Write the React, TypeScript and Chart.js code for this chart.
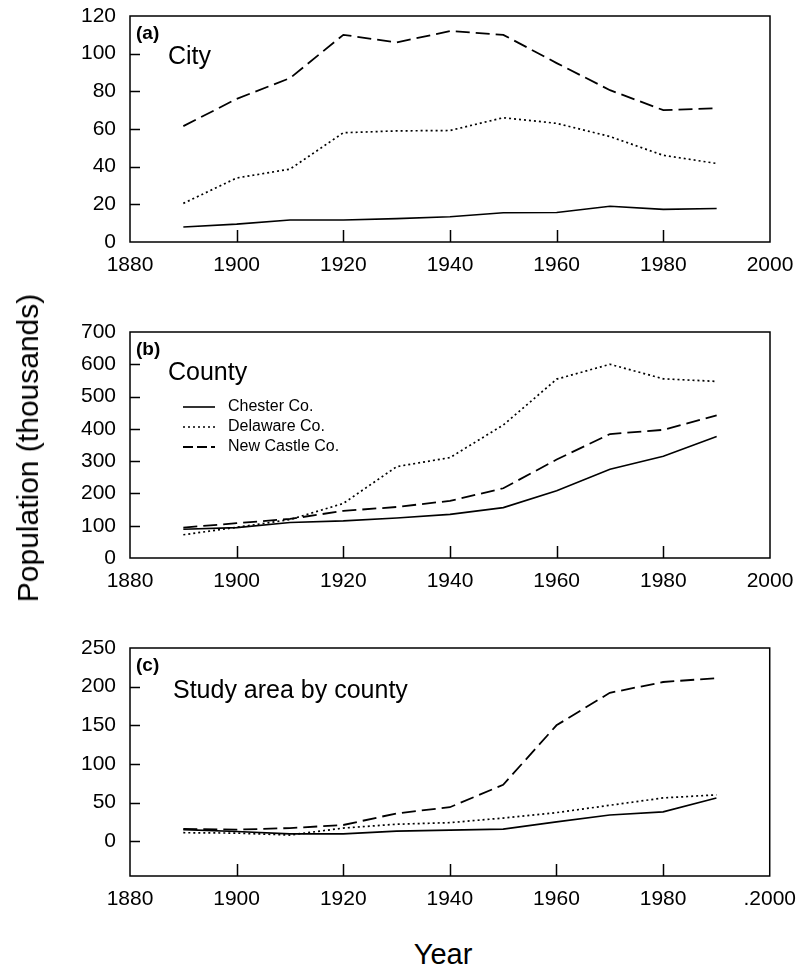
import React, { useEffect, useRef } from "react";
import { Chart, registerables } from "chart.js";

Chart.register(...registerables);

const FONT = "'Liberation Sans', Arial, Helvetica, sans-serif";

// ---- data (population, thousands) ----
const years = [1890, 1900, 1910, 1920, 1930, 1940, 1950, 1960, 1970, 1980, 1990];
const seriesNames = ["Chester Co.", "Delaware Co.", "New Castle Co."];

const cityChester = [8, 9.5, 11.7, 11.7, 12.4, 13.4, 15.5, 15.7, 19, 17.3, 17.8];
const cityDelaware = [20.5, 34, 38.7, 58, 59, 59.2, 66, 63, 56, 46, 41.7];
const cityNewCastle = [61.5, 76, 87, 110, 106, 112, 110, 95, 80.6, 70, 71];

const countyChester = [89, 94, 110, 115, 124, 135, 156, 208, 275, 315, 376];
const countyDelaware = [72, 95, 119, 169, 283, 311, 412, 554, 600, 555, 547];
const countyNewCastle = [94, 108, 121, 146, 158, 177, 216, 305, 384, 397, 442];

const studyChester = [15, 12.6, 9.5, 9.5, 13, 14.3, 15.6, 25, 34, 38, 56];
const studyDelaware = [11, 10.5, 8, 17, 22, 24, 30, 37, 46.5, 56, 60];
const studyNewCastle = [16, 15, 17, 21, 36, 44, 73, 150, 192, 206, 211];

const xTickLabels = ["1880", "1900", "1920", "1940", "1960", "1980", "2000"];
const xTickLabelsC = ["1880", "1900", "1920", "1940", "1960", "1980", ".2000"];
const yTicksA = [0, 20, 40, 60, 80, 100, 120];
const yTicksB = [0, 100, 200, 300, 400, 500, 600, 700];
const yTicksC = [0, 50, 100, 150, 200, 250];

// ---- layout constants ----
const W = 796;
const PLOT_LEFT = 130;
const PLOT_RIGHT = 770;

const lineStyles = [
  { dash: [] as number[], width: 1.6 },
  { dash: [2, 3], width: 1.7 },
  { dash: [14, 6], width: 1.8 },
];

type Panel = {
  canvasTop: number;
  canvasH: number;
  plotTop: number;
  plotBottom: number;
  yMin: number;
  yMax: number;
  yTicks: number[];
  xLabels: string[];
  values: number[][];
  tag: string;
  title: string;
  titleX: number;
  titleBaseline: number;
  legend: boolean;
};

const panels: Panel[] = [
  {
    canvasTop: 0, canvasH: 300, plotTop: 16, plotBottom: 242,
    yMin: 0, yMax: 120, yTicks: yTicksA, xLabels: xTickLabels,
    values: [cityChester, cityDelaware, cityNewCastle],
    tag: "(a)", title: "City", titleX: 168, titleBaseline: 64, legend: false,
  },
  {
    canvasTop: 300, canvasH: 320, plotTop: 332, plotBottom: 558,
    yMin: 0, yMax: 700, yTicks: yTicksB, xLabels: xTickLabels,
    values: [countyChester, countyDelaware, countyNewCastle],
    tag: "(b)", title: "County", titleX: 168, titleBaseline: 380, legend: true,
  },
  {
    canvasTop: 620, canvasH: 300, plotTop: 648, plotBottom: 876,
    yMin: -45, yMax: 250, yTicks: yTicksC, xLabels: xTickLabelsC,
    values: [studyChester, studyDelaware, studyNewCastle],
    tag: "(c)", title: "Study area by county", titleX: 173, titleBaseline: 698, legend: false,
  },
];

function PanelChart({ p }: { p: Panel }) {
  const ref = useRef<HTMLCanvasElement | null>(null);

  useEffect(() => {
    if (!ref.current) return;
    const frame = {
      id: "frame" + p.tag,
      afterDatasetsDraw(chart: any) {
        const { ctx, chartArea } = chart;
        const { left, right, top, bottom } = chartArea;
        const xs = chart.scales.x;
        const ys = chart.scales.y;
        ctx.save();
        ctx.strokeStyle = "#000";
        ctx.lineWidth = 1.5;
        ctx.setLineDash([]);
        ctx.strokeRect(left, top, right - left, bottom - top);
        // inner tick marks
        ctx.beginPath();
        xs.ticks.forEach((t: any) => {
          if (t.value <= xs.min || t.value >= xs.max) return;
          const px = Math.round(xs.getPixelForValue(t.value)) + 0.5;
          ctx.moveTo(px, bottom);
          ctx.lineTo(px, bottom - 12);
        });
        ys.ticks.forEach((t: any) => {
          if (t.value <= ys.min || t.value >= ys.max) return;
          const py = Math.round(ys.getPixelForValue(t.value)) + 0.5;
          ctx.moveTo(left, py);
          ctx.lineTo(left + 10, py);
        });
        ctx.stroke();

        // panel tag and title
        ctx.fillStyle = "#000";
        ctx.textAlign = "left";
        ctx.textBaseline = "top";
        ctx.font = `bold 19px ${FONT}`;
        ctx.fillText(p.tag, left + 6, top + 8);
        ctx.textBaseline = "alphabetic";
        ctx.font = `25px ${FONT}`;
        ctx.fillText(p.title, p.titleX, p.titleBaseline - p.canvasTop);

        if (p.legend) {
          const rows = [407, 427, 447];
          ctx.font = `16px ${FONT}`;
          ctx.textBaseline = "middle";
          rows.forEach((ry, i) => {
            const y = ry - p.canvasTop;
            ctx.beginPath();
            ctx.lineWidth = lineStyles[i].width;
            ctx.setLineDash(i === 2 ? [10, 4] : lineStyles[i].dash);
            ctx.moveTo(183, y);
            ctx.lineTo(215, y);
            ctx.stroke();
            ctx.setLineDash([]);
            ctx.fillText(seriesNames[i], 228, y);
          });
        }
        ctx.restore();
      },
    };

    const hiddenTicks = (len: number) => ({
      display: true,
      drawOnChartArea: false,
      drawTicks: true,
      tickLength: len,
      color: "rgba(0,0,0,0)",
    });

    const chart = new Chart(ref.current, {
      type: "line",
      data: {
        datasets: p.values.map((vals, i) => ({
          label: seriesNames[i],
          data: years.map((x, j) => ({ x, y: vals[j] })),
          borderColor: "#000",
          backgroundColor: "#000",
          borderWidth: lineStyles[i].width,
          borderDash: lineStyles[i].dash,
          pointRadius: 0,
          fill: false,
          tension: 0,
        })),
      },
      options: {
        responsive: false,
        animation: false,
        devicePixelRatio: 1,
        layout: {
          padding: { left: 0, right: W - PLOT_RIGHT, top: p.plotTop - p.canvasTop, bottom: 0 },
        },
        plugins: {
          legend: { display: false },
          tooltip: { enabled: false },
          title: { display: false },
        },
        scales: {
          x: {
            type: "linear",
            min: 1880,
            max: 2000,
            afterBuildTicks: (s: any) => {
              s.ticks = p.xLabels.map((_, i) => ({ value: 1880 + i * 20 }));
            },
            ticks: {
              autoSkip: false,
              maxRotation: 0,
              padding: 0,
              color: "#000",
              font: { family: FONT, size: 21 },
              callback: (_v: any, i: number) => p.xLabels[i],
            },
            grid: hiddenTicks(11),
            border: { display: false },
            afterFit: (s: any) => {
              s.height = p.canvasTop + p.canvasH - p.plotBottom;
            },
          },
          y: {
            type: "linear",
            min: p.yMin,
            max: p.yMax,
            afterBuildTicks: (s: any) => {
              s.ticks = p.yTicks.map((v) => ({ value: v }));
            },
            ticks: {
              padding: 0,
              color: "#000",
              font: { family: FONT, size: 21 },
              callback: (v: any) => String(v),
            },
            grid: hiddenTicks(14),
            border: { display: false },
            afterFit: (s: any) => {
              s.width = PLOT_LEFT;
            },
          },
        },
      },
      plugins: [frame],
    } as any);

    return () => chart.destroy();
  }, [p]);

  return (
    <canvas
      ref={ref}
      width={W}
      height={p.canvasH}
      style={{ position: "absolute", left: 0, top: p.canvasTop, width: W, height: p.canvasH }}
    />
  );
}

export default function App() {
  return (
    <div
      style={{
        position: "absolute",
        left: 0,
        top: 0,
        width: W,
        height: 970,
        background: "#fff",
        overflow: "hidden",
        fontFamily: FONT,
        color: "#000",
      }}
    >
      {panels.map((p) => (
        <PanelChart key={p.tag} p={p} />
      ))}
      <div
        style={{
          position: "absolute",
          left: 27.5,
          top: 448,
          transform: "translate(-50%, -50%) rotate(-90deg)",
          whiteSpace: "nowrap",
          fontSize: 30,
          lineHeight: "1",
        }}
      >
        Population (thousands)
      </div>
      <div
        style={{
          position: "absolute",
          left: 443,
          top: 940,
          transform: "translateX(-50%)",
          whiteSpace: "nowrap",
          fontSize: 29,
          lineHeight: "1",
        }}
      >
        Year
      </div>
    </div>
  );
}
